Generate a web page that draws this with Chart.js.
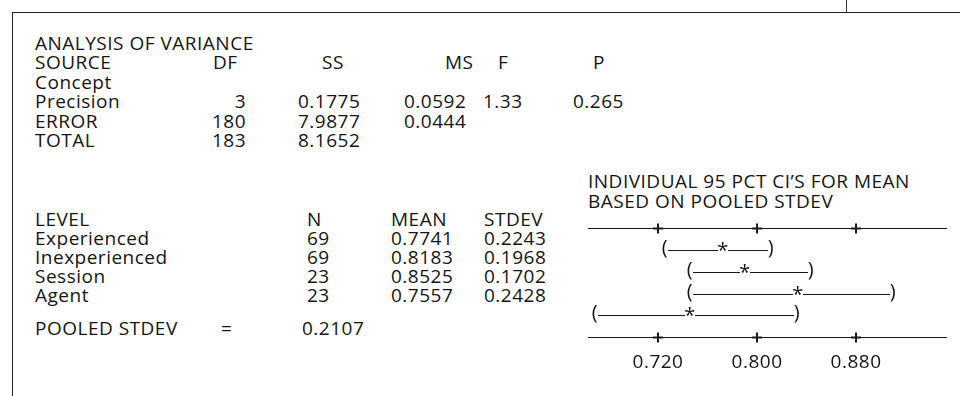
<!DOCTYPE html>
<html>
<head>
<meta charset="utf-8">
<script src="https://cdn.jsdelivr.net/npm/chart.js@4.4.1/dist/chart.umd.min.js"></script>
<style>
  html, body { margin:0; padding:0; background:#fff; }
  body { width:960px; height:396px; position:relative; overflow:hidden; font-family:"Open Sans", sans-serif; font-size:19px; letter-spacing:0.5px; color:#151515; }
  .t { position:absolute; white-space:pre; line-height:20px; }
  .r { text-align:right; }
  #frameTop { position:absolute; left:12px; top:12px; width:948px; height:0; border-top:1.5px solid #222; }
  #frameLeft { position:absolute; left:12px; top:12px; width:0; height:384px; border-left:1.5px solid #222; }
  #tick { position:absolute; left:846px; top:0; width:0; height:13px; border-left:1px solid #333; }
  #c { position:absolute; left:0; top:0; }
</style>
</head>
<body>
<div id="frameTop"></div><div id="frameLeft"></div><div id="tick"></div>
<div id="txt"></div>
<canvas id="c" width="960" height="396"></canvas>
<script>
// ---- ANOVA table ----
const anovaHeader = ['SOURCE', 'DF', 'SS', 'MS', 'F', 'P'];
const sources = ['Precision', 'ERROR', 'TOTAL'];
const dfVals = ['3', '180', '183'];
const ssVals = ['0.1775', '7.9877', '8.1652'];
const msVals = ['0.0592', '0.0444', ''];
const fVals = ['1.33', '', ''];
const pVals = ['0.265', '', ''];

// ---- level table ----
const levels = ['Experienced', 'Inexperienced', 'Session', 'Agent'];
const nVals = ['69', '69', '23', '23'];
const meanVals = ['0.7741', '0.8183', '0.8525', '0.7557'];
const stdevVals = ['0.2243', '0.1968', '0.1702', '0.2428'];
const pooledStdev = '0.2107';

// ---- CI character plot (positions) ----
const ciLow  = [0.7257, 0.7459, 0.7459, 0.6691];
const ciStar = [0.7725, 0.7903, 0.8331, 0.7459];
const ciHigh = [0.8113, 0.8436, 0.9099, 0.8323];
const axisTicks = [0.720, 0.800, 0.880];

// ---- build text ----
const txt = document.getElementById('txt');
function put(s, x, yc, right) {
  const d = document.createElement('div');
  d.className = 't' + (right ? ' r' : '');
  d.textContent = s;
  d.style.top = (yc - 10.5) + 'px';
  if (right) { d.style.left = (x - 200) + 'px'; d.style.width = '200px'; }
  else d.style.left = x + 'px';
  txt.appendChild(d);
}
const colX = { label: 35, df: 213, dfR: 246, ss: 298, ms: 404, f: 483, p: 573 };
const rowA = [43, 62.5, 82, 101.5, 121, 140.5];
put('ANALYSIS OF VARIANCE', colX.label, rowA[0]);
put(anovaHeader[0], colX.label, rowA[1]);
put(anovaHeader[1], colX.df, rowA[1]);
put(anovaHeader[2], 322, rowA[1]);
put(anovaHeader[3], 445, rowA[1]);
put(anovaHeader[4], 498, rowA[1]);
put(anovaHeader[5], 593, rowA[1]);
put('Concept', colX.label, rowA[2]);
sources.forEach((s, i) => {
  const y = rowA[3 + i];
  put(s, colX.label, y);
  put(dfVals[i], colX.dfR, y, true);
  put(ssVals[i], colX.ss, y);
  if (msVals[i]) put(msVals[i], colX.ms, y);
  if (fVals[i]) put(fVals[i], colX.f, y);
  if (pVals[i]) put(pVals[i], colX.p, y);
});
put('INDIVIDUAL 95 PCT CI\u2019S FOR MEAN', 588, 181.5);
put('BASED ON POOLED STDEV', 588, 201);
put('LEVEL', colX.label, 219.5);
put('N', 307, 219.5);
put('MEAN', 391, 219.5);
put('STDEV', 484, 219.5);
levels.forEach((l, i) => {
  const y = 238.5 + i * 19;
  put(l, colX.label, y);
  put(nVals[i], 307, y);
  put(meanVals[i], 391, y);
  put(stdevVals[i], 484, y);
});
put('POOLED STDEV', colX.label, 328);
put('=', 221, 328);
put(pooledStdev, 302, 328);

// ---- CI plot via Chart.js ----
const FONT = '20px "Open Sans"';
const ciPlot = {
  id: 'ciPlot',
  afterDatasetsDraw(chart) {
    const { ctx, scales: { x, y } } = chart;
    ctx.save();
    ctx.strokeStyle = '#1a1a1a';
    ctx.fillStyle = '#151515';
    // axis lines with + ticks
    [0, levels.length + 1].forEach(r => {
      const yy = Math.round(y.getPixelForValue(r)) + 0.5;
      ctx.lineWidth = 1;
      ctx.beginPath(); ctx.moveTo(x.left, yy); ctx.lineTo(x.right, yy); ctx.stroke();
      ctx.lineWidth = 2;
      axisTicks.forEach(t => {
        const xx = x.getPixelForValue(t);
        ctx.beginPath();
        ctx.moveTo(xx, yy - 5); ctx.lineTo(xx, yy + 5);
        ctx.moveTo(xx - 5, yy); ctx.lineTo(xx + 5, yy);
        ctx.stroke();
      });
    });
    // intervals
    ctx.font = FONT;
    ctx.textAlign = 'center';
    ctx.textBaseline = 'alphabetic';
    levels.forEach((l, i) => {
      const yy = Math.round(y.getPixelForValue(i + 1)) + 0.5;
      const xl = x.getPixelForValue(ciLow[i]);
      const xm = x.getPixelForValue(ciStar[i]);
      const xh = x.getPixelForValue(ciHigh[i]);
      ctx.fillText('(', xl, yy + 3);
      ctx.fillText(')', xh, yy + 3);
      ctx.fillText('*', xm, yy + 6);
      ctx.lineWidth = 1.1;
      ctx.beginPath();
      ctx.moveTo(xl + 3, yy); ctx.lineTo(xm - 5, yy);
      ctx.moveTo(xm + 5, yy); ctx.lineTo(xh - 3, yy);
      ctx.stroke();
    });
    ctx.restore();
  }
};

new Chart(document.getElementById('c'), {
  type: 'scatter',
  data: {
    datasets: [{
      label: 'MEAN',
      data: ciStar.map((v, i) => ({ x: v, y: i + 1 })),
      pointRadius: 0,
      showLine: false
    }]
  },
  options: {
    responsive: false,
    animation: false,
    events: [],
    layout: { padding: { left: 588, right: 13, top: 228, bottom: 8 } },
    plugins: { legend: { display: false }, tooltip: { enabled: false } },
    scales: {
      x: {
        type: 'linear',
        min: 0.66343,
        max: 0.9535,
        afterBuildTicks: (ax) => { ax.ticks = axisTicks.map(v => ({ value: v })); },
        grid: { display: false, drawTicks: false },
        border: { display: false },
        ticks: {
          autoSkip: false,
          maxRotation: 0,
          padding: 14,
          color: '#151515',
          font: { family: 'Open Sans', size: 19 },
          callback: (v) => Number(v).toFixed(3)
        }
      },
      y: { type: 'linear', min: 0, max: levels.length + 1, reverse: true, display: false }
    }
  },
  plugins: [ciPlot]
});
</script>
</body>
</html>
